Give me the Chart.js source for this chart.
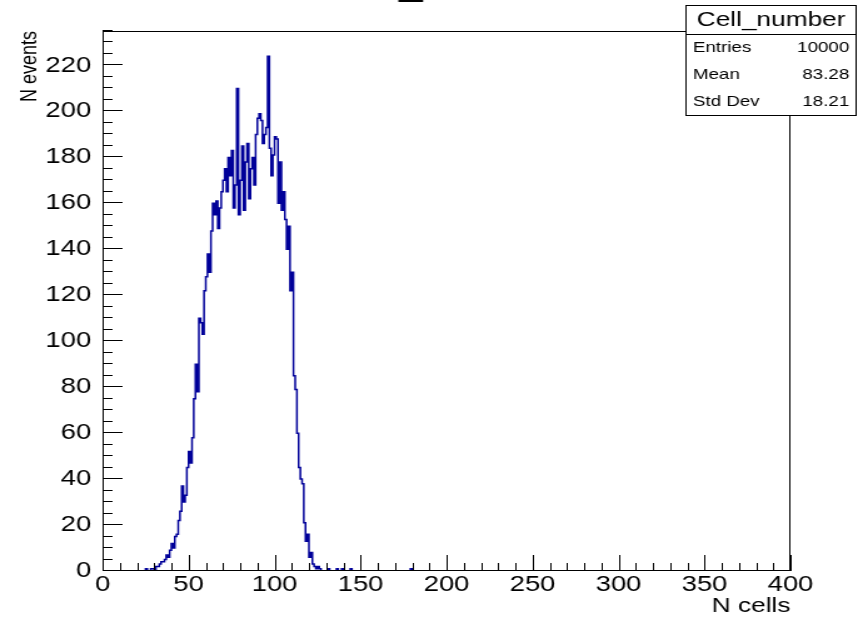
<!DOCTYPE html>
<html>
<head>
<meta charset="utf-8">
<script src="https://cdn.jsdelivr.net/npm/chart.js@4"></script>
<style>
  html, body { margin: 0; padding: 0; background: #fff; }
  canvas { display: block; }
</style>
</head>
<body>
<!-- drawn at 686 px wide, shown stretched to 858 like the ROOT picture -->
<canvas id="histChart" width="686" height="620" style="width:858px;height:620px;"></canvas>
<script>
// histogram: 400 bins of width 1 from 0 to 400
const nBins = 400;
const firstBin = 25;
// counts of bins 25 .. 126
const coreCounts = [
  1, 0, 0, 1, 1, 0, 2, 2, 3, 4,          // 25-34
  4, 5, 7, 6, 9, 12, 10, 15, 16, 22,     // 35-44
  26, 37, 30, 33, 45, 52, 47, 58, 75, 90, // 45-54
  78, 110, 108, 103, 122, 128, 138, 130, 148, 160, // 55-64
  155, 161, 149, 158, 165, 170, 175, 165, 180, 172, // 65-74
  183, 158, 168, 210, 155, 170, 185, 157, 178, 186, // 75-84
  162, 175, 180, 168, 190, 197, 199, 196, 186, 190, // 85-94
  193, 224, 184, 172, 181, 189, 188, 160, 178, 157, // 95-104
  165, 153, 140, 150, 122, 130, 85, 79, 60, 45,      // 105-114
  40, 38, 21, 13, 16, 6, 8, 3, 2, 1,                 // 115-124
  2, 1                                               // 125-126
];
const tailBins = [131, 136, 139, 144, 179];
const tailCounts = [1, 1, 1, 1, 1];

const xTickLabels = [0, 50, 100, 150, 200, 250, 300, 350, 400];
const yTickLabels = [0, 20, 40, 60, 80, 100, 120, 140, 160, 180, 200, 220];
const yMax = 235;

const statTitle = 'Cell_number';
const statNames = ['Entries', 'Mean', 'Std Dev'];
const statValues = ['10000', '83.28', '18.21'];

const counts = new Array(nBins).fill(0);
coreCounts.forEach((c, i) => { counts[firstBin + i] = c; });
tailBins.forEach((b, i) => { counts[b] = tailCounts[i]; });

const points = counts.map((c, i) => ({ x: i, y: c }));
points.push({ x: nBins, y: counts[nBins - 1] });

const FONT = "'Liberation Sans', Arial, Helvetica, sans-serif";

const rootFrame = {
  id: 'rootFrame',
  afterDatasetsDraw(chart) {
    const { ctx, chartArea: a, scales: { x, y } } = chart;
    ctx.save();
    ctx.strokeStyle = '#000';
    ctx.lineWidth = 1;
    ctx.strokeRect(a.left + 0.5, a.top + 0.5, a.right - a.left - 1, a.bottom - a.top - 1);

    // inward ticks like ROOT
    ctx.beginPath();
    for (let v = 0; v <= 400; v += 10) {
      const px = Math.round(x.getPixelForValue(v)) + 0.5;
      const len = v % 50 === 0 ? 16 : 8;
      ctx.moveTo(px, a.bottom);
      ctx.lineTo(px, a.bottom - len);
    }
    for (let v = 0; v <= yMax; v += 5) {
      const py = Math.round(y.getPixelForValue(v)) - 0.5;
      const len = v % 20 === 0 ? 16 : 8;
      ctx.moveTo(a.left, py);
      ctx.lineTo(a.left + len, py);
    }
    ctx.stroke();
    ctx.restore();
  },
  afterDraw(chart) {
    const { ctx } = chart;
    ctx.save();
    // title is clipped off the top, only its underscore shows
    ctx.fillStyle = '#000';
    ctx.font = '34px ' + FONT;
    ctx.textAlign = 'left';
    ctx.textBaseline = 'alphabetic';
    ctx.fillText('_', 319, -5);

    // stats box
    const bx = 548, by = 5, bw = 137, bh = 110;
    ctx.fillStyle = '#fff';
    ctx.fillRect(bx, by, bw, bh);
    ctx.strokeStyle = '#000';
    ctx.lineWidth = 1;
    ctx.strokeRect(bx + 0.5, by + 0.5, bw - 1, bh);
    ctx.beginPath();
    ctx.moveTo(bx, 34.5);
    ctx.lineTo(bx + bw, 34.5);
    ctx.stroke();

    ctx.fillStyle = '#000';
    ctx.textBaseline = 'middle';
    ctx.textAlign = 'center';
    ctx.font = '21px ' + FONT;
    ctx.fillText(statTitle, bx + bw / 2, 20);
    ctx.font = '15px ' + FONT;
    statNames.forEach((n, i) => {
      const ty = 48 + i * 27;
      ctx.textAlign = 'left';
      ctx.fillText(n, bx + 6, ty);
      ctx.textAlign = 'right';
      ctx.fillText(statValues[i], bx + bw - 6, ty);
    });
    ctx.restore();
  }
};

const ctx = document.getElementById('histChart').getContext('2d');
const histChart = new Chart(ctx, {
  type: 'line',
  data: {
    datasets: [
      {
        label: 'Cell_number',
        data: points,
        stepped: true,
        borderColor: '#000099',
        borderWidth: 1.5,
        pointRadius: 0,
        fill: false,
        clip: 0
      }
    ]
  },
  options: {
    responsive: false,
    animation: false,
    layout: { padding: { top: 31, right: 54, left: 0, bottom: 0 } },
    plugins: {
      legend: { display: false },
      tooltip: { enabled: false }
    },
    scales: {
      x: {
        type: 'linear',
        min: 0,
        max: nBins,
        grid: { display: false, drawTicks: false },
        border: { display: false },
        afterBuildTicks: (s) => { s.ticks = xTickLabels.map(v => ({ value: v })); },
        ticks: {
          color: '#000',
          font: { family: FONT, size: 22 },
          padding: 1,
          maxRotation: 0,
          autoSkip: false
        },
        title: {
          display: true,
          text: 'N cells',
          align: 'end',
          color: '#000',
          font: { family: FONT, size: 21 },
          padding: { top: 0, bottom: 1 }
        },
        afterFit: (s) => { s.height = 49; }
      },
      y: {
        min: 0,
        max: yMax,
        grid: { display: false, drawTicks: false },
        border: { display: false },
        afterBuildTicks: (s) => { s.ticks = yTickLabels.map(v => ({ value: v })); },
        ticks: {
          color: '#000',
          font: { family: FONT, size: 22 },
          padding: 9,
          autoSkip: false
        },
        title: {
          display: true,
          text: 'N events',
          align: 'end',
          color: '#000',
          font: { family: FONT, size: 18 },
          padding: { top: 13, bottom: 0 }
        },
        afterFit: (s) => { s.width = 82; }
      }
    }
  },
  plugins: [rootFrame]
});
</script>
</body>
</html>
